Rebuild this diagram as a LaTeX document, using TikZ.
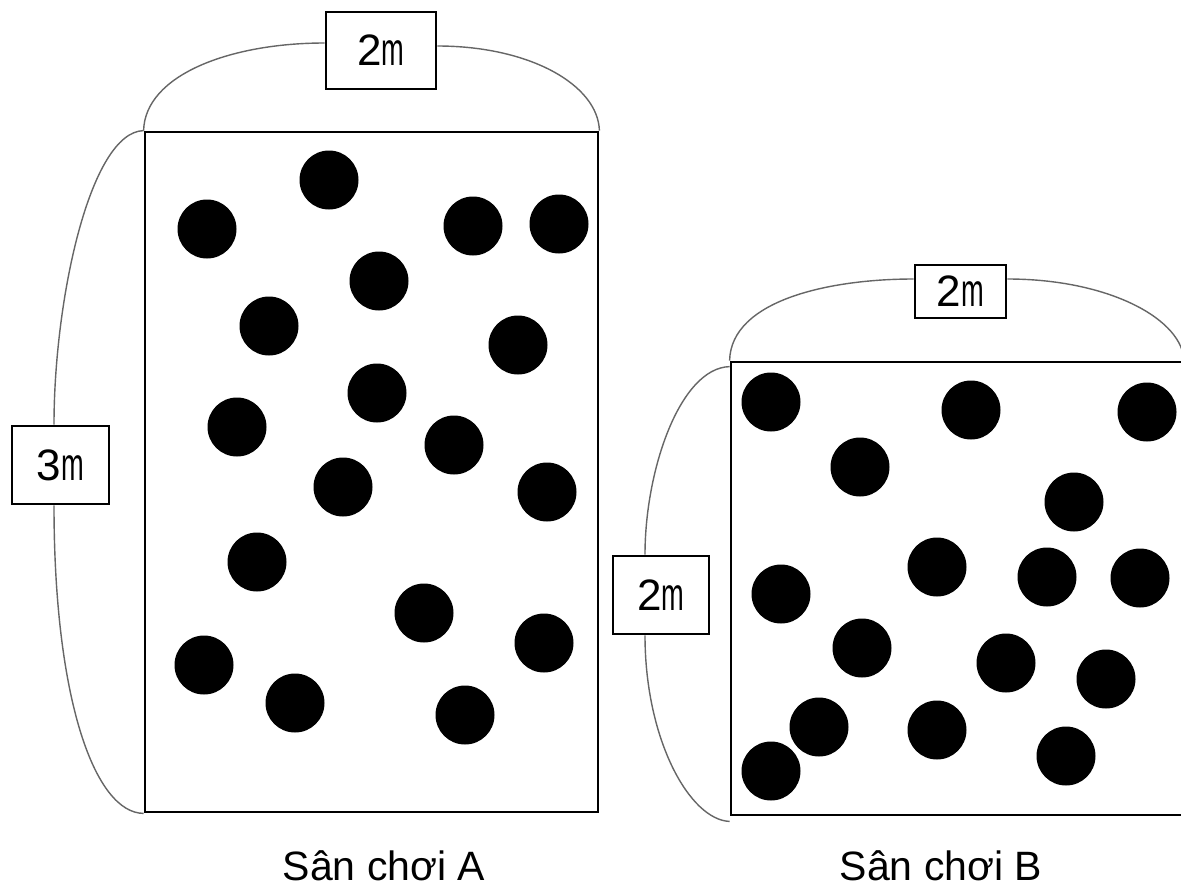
\documentclass[tikz,border=0pt]{standalone}
\usepackage{fontspec}
\setmainfont{Liberation Sans}
\usepackage{graphicx}
\newcommand{\meas}[1]{#1\scalebox{0.62}[1.05]{m}}
\begin{document}
\begin{tikzpicture}[x=1pt,y=-1pt,
  field/.style={draw,line width=2.8pt,rectangle,inner sep=0pt},
  ball/.style={circle,fill=black,minimum size=59pt,inner sep=0pt},
  dimbox/.style={draw,line width=2.8pt,rectangle,inner sep=0pt,fill=white,font=\fontsize{44}{48}\selectfont},
  brace/.style={draw=black!60,line width=1.4pt},
  caption/.style={font=\fontsize{41}{46}\selectfont,anchor=base,inner sep=0pt}]
\useasboundingbox[fill=white] (0,0) rectangle (1181,889);
% fields
\node[field,minimum width=453pt,minimum height=680pt] (A) at (371.5,472) {};
\node[field,minimum width=454pt,minimum height=453pt] (B) at (958,588.5) {};
% dimension boxes
\node[dimbox,minimum width=110pt,minimum height=77pt] (At) at (381,50.5) {\meas{2}};
\node[dimbox,minimum width=97pt,minimum height=78pt] (Al) at (60.5,465) {\meas{3}};
\node[dimbox,minimum width=91pt,minimum height=53pt] (Bt) at (960.5,291.5) {\meas{2}};
\node[dimbox,minimum width=96pt,minimum height=78pt] (Bl) at (661,595) {\meas{2}};
\coordinate (Bte) at (1184,362);
% arcs
\draw[brace] (A.north west) .. controls (145,75) and (230,43) .. ([yshift=7.5pt]At.west);
\draw[brace] ([yshift=4.5pt]At.east) .. controls (530,46) and (598,85) .. (A.north east);
\draw[brace] (A.north west) .. controls (90,132) and (54,300) .. ([xshift=-6.5pt]Al.north);
\draw[brace] ([xshift=-6.5pt]Al.south) .. controls (54,700) and (95,813) .. (A.south west);
\draw[brace] (B.north west) .. controls (731,300) and (830,279) .. ([yshift=12.5pt]Bt.west);
\draw[brace] ([yshift=12.5pt]Bt.east) .. controls (1110,279) and (1184,320) .. (Bte);
\draw[brace] ([yshift=-6pt]B.north west) .. controls (680,368) and (645,470) .. ([xshift=-16pt]Bl.north);
\draw[brace] ([xshift=-16pt]Bl.south) .. controls (645,740) and (690,820) .. ([yshift=-5pt]B.south west);
% balls in A
\foreach \n/\x/\y in {a1/329/180, a2/207/229, a3/473/226, a4/559/224, a5/379/281, a6/269/326,
  a7/518/345, a8/377/393, a9/237/427, a10/454/445, a11/343/487, a12/547/492, a13/257/562,
  a14/424/613, a15/544/643, a16/204/665, a17/295/703, a18/465/715}
  \node[ball] (\n) at (\x,\y) {};
% balls in B
\foreach \n/\x/\y in {b1/771/402, b2/971/410, b3/1147/412, b4/860/467, b5/1074/502, b6/937/567,
  b7/1047/577, b8/1140/578, b9/781/594, b10/862/648, b11/1006/663, b12/1106/679, b13/819/727,
  b14/937/730, b15/1066/756, b16/771/771}
  \node[ball] (\n) at (\x,\y) {};
% captions
\node[caption] (capA) at (384,880) {Sân chơi A};
\node[caption] (capB) at (941,880) {Sân chơi B};
\end{tikzpicture}
\end{document}
